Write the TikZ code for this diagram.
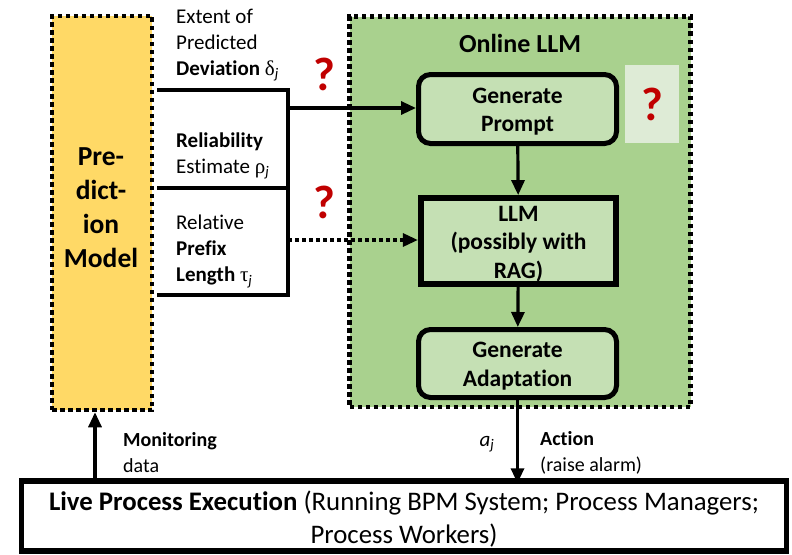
\documentclass[tikz,border=0pt]{standalone}
\usepackage{fontspec}
\setmainfont[Ligatures=NoCommon]{Carlito}
\newfontfamily\grk{Liberation Serif}
\usetikzlibrary{arrows.meta}

\definecolor{predyellow}{HTML}{FFD966}
\definecolor{llmgreen}{HTML}{A9D18E}
\definecolor{stepgreen}{HTML}{C5E0B4}
\definecolor{palegreen}{HTML}{DEEBD6}
\definecolor{qred}{HTML}{C00000}

\newcommand{\gsub}[1]{{\grk #1}\textsubscript{\textit{j}}}
% invisible strut that lowers the text block inside a box
\newcommand{\topstrut}[1]{\rule{0pt}{#1}}

\tikzset{
  dotbox/.style={draw=black, line width=4.5pt, dash pattern=on 4.5pt off 3.5pt, inner sep=0pt},
  stepbox/.style={draw=black, fill=stepgreen, line width=5pt, rounded corners=12pt,
    minimum width=198pt, minimum height=69pt, inner sep=0pt, align=center,
    font=\bfseries\fontsize{23.5}{28.5}\selectfont},
  lbl/.style={anchor=west, align=left, inner sep=0pt, font=\fontsize{21}{26}\selectfont},
  small/.style={anchor=west, align=left, inner sep=0pt, font=\fontsize{20}{26}\selectfont},
  qmark/.style={text=qred, font=\bfseries\fontsize{47}{47}\selectfont, inner sep=0pt},
  conn/.style={line width=3.2pt},
  arr/.style={conn, -{Triangle[length=15pt,width=13pt]}},
  dotarr/.style={arr, dash pattern=on 3.5pt off 3.5pt}
}

\begin{document}
\begin{tikzpicture}[x=1pt, y=-1pt]
\useasboundingbox (0,0) rectangle (792,554);

% prediction model
\node[dotbox, fill=predyellow, minimum width=100pt, minimum height=394pt] (pred) at (102,213) {};
\node[align=center, inner sep=0pt, font=\bfseries\fontsize{27.5}{34}\selectfont] (predtxt) at (101,208) {Pre-\\dict-\\ion\\Model};

% online LLM container
\node[dotbox, fill=llmgreen, minimum width=341pt, minimum height=390.5pt] (online) at (520,211.75) {};
\node[font=\bfseries\fontsize{26}{30}\selectfont, inner sep=0pt] (onlinetitle) at (520,43) {Online LLM};

% steps inside
\node[stepbox] (prompt) at (517.5,109) {\topstrut{21pt}Generate\\Prompt};
\node[stepbox, rounded corners=0pt, line width=5.8pt, minimum width=195.5pt, minimum height=86pt] (llm) at (518.5,241) {\topstrut{21pt}LLM\\(possibly with\\RAG)};
\node[stepbox, minimum height=68pt] (adapt) at (517.5,363.5) {\topstrut{21pt}Generate\\Adaptation};

\node[fill=palegreen, minimum width=54pt, minimum height=78pt, inner sep=0pt] (qbox) at (652,104) {};
\node[qmark] (q3) at (qbox.center) {?};

% live process execution
\node[draw=black, line width=5.5pt, fill=white, minimum width=765pt, minimum height=70pt, inner sep=0pt,
  align=center, font=\fontsize{26.8}{33}\selectfont] (live) at (404,516)
  {\topstrut{26pt}\textbf{Live Process Execution} (Running BPM System; Process Managers;\\Process Workers)};

% signal labels
\node[lbl] (dev) at (176,45) {Extent of\\Predicted\\\textbf{Deviation} \gsub{δ}};
\node[lbl] (rel) at (176,156) {\textbf{Reliability}\\Estimate \gsub{ρ}};
\node[lbl] (pre) at (176,251.5) {Relative\\\textbf{Prefix}\\\textbf{Length} \gsub{τ}};

\node[qmark] (q1) at (324,74) {?};
\node[qmark] (q2) at (324,202) {?};

% bus from the prediction model
\coordinate (b1) at (157,90);
\coordinate (b2) at (157,188);
\coordinate (b3) at (157,295);
\coordinate (j1) at (288,90);
\coordinate (j2) at (288,188);
\coordinate (j3) at (288,295);
\coordinate (ja) at (288,108);
\coordinate (jb) at (288,240);
\draw[conn] (b1) -- (j1) -- (j3) -- (b3);
\draw[conn] (b2) -- (j2);
\draw[arr] (ja) -- (ja -| prompt.west);
\draw[dotarr] (jb) -- (jb -| llm.west);

% flow inside the LLM stage
\draw[arr] (prompt) -- (llm);
\draw[arr] (llm) -- (adapt);
\draw[arr] (adapt.south) -- ([yshift=-5pt]adapt.south |- live.north);

% monitoring feedback
\draw[arr] (live.north -| pred.south) ++(-7,0) coordinate (m0) -- (m0 |- pred.south);

\node[small] (mon) at (123,453) {\textbf{Monitoring}\\data};
\node[small] (act) at (540,453) {\textbf{Action}\\(raise alarm)};
\node[inner sep=0pt, font=\fontsize{21}{25}\selectfont] (aj) at (487,444) {\textit{a}\textsubscript{\textit{j}}};
\end{tikzpicture}
\end{document}
